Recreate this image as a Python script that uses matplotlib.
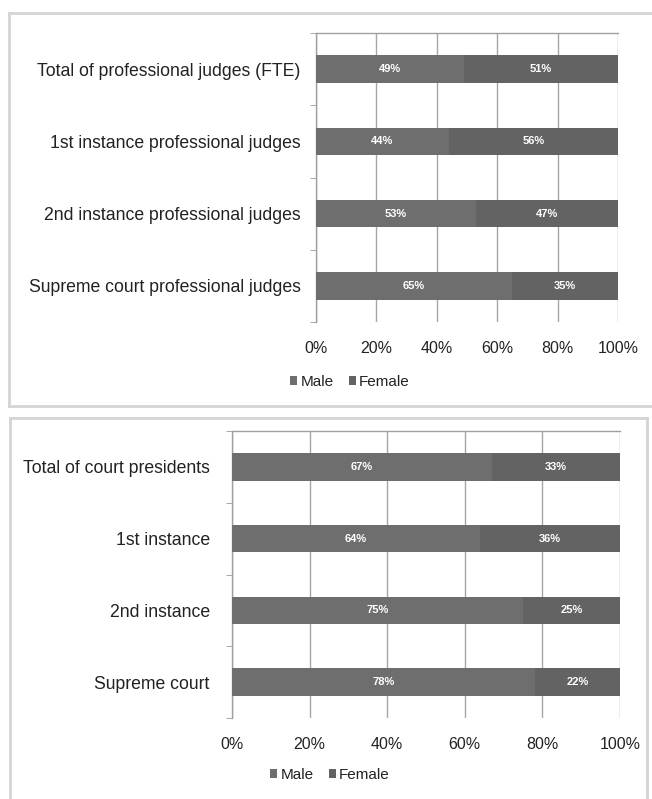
import numpy as np
import matplotlib
matplotlib.use("Agg")
import matplotlib.pyplot as plt
from matplotlib.patches import Patch, Rectangle
from matplotlib.lines import Line2D

plt.rcParams["font.family"] = ["Liberation Sans", "DejaVu Sans"]

# data
judges_cats = ["Total of professional judges (FTE)", "1st instance professional judges",
               "2nd instance professional judges", "Supreme court professional judges"]
judges_male = [49, 44, 53, 65]
judges_female = [51, 56, 47, 35]

pres_cats = ["Total of court presidents", "1st instance", "2nd instance", "Supreme court"]
pres_male = [67, 64, 75, 78]
pres_female = [33, 36, 25, 22]

xticks = [0, 20, 40, 60, 80, 100]
series_names = ["Male", "Female"]

MALE_C = "#6e6e6e"
FEMALE_C = "#636363"
GRID_C = "#a6a6a6"
FRAME_C = "#d4d4d4"

W, H = 652, 799
fig = plt.figure(figsize=(W / 100, H / 100), dpi=100)


def px_rect(x0, y0, x1, y1):
    """figure-fraction [l, b, w, h] from pixel box (y measured from top)"""
    return [x0 / W, 1 - y1 / H, (x1 - x0) / W, (y1 - y0) / H]


def panel(rect, cats, male, female, legend_xy, label_pad):
    ax = fig.add_axes(rect)
    y = np.arange(len(cats))
    ax.barh(y, male, height=0.38, color=MALE_C, zorder=3)
    ax.barh(y, female, left=male, height=0.38, color=FEMALE_C, zorder=3)
    for yi, m, f in zip(y, male, female):
        ax.text(m / 2, yi, f"{m}%", color="white", fontsize=8, fontweight="bold",
                ha="center", va="center", zorder=4)
        ax.text(m + f / 2, yi, f"{f}%", color="white", fontsize=8, fontweight="bold",
                ha="center", va="center", zorder=4)

    ax.set_xlim(0, 100)
    ax.set_ylim(len(cats) - 0.5, -0.5)
    ax.set_xticks(xticks)
    ax.set_xticklabels([f"{t}%" for t in xticks])
    ax.set_yticks(y)
    ax.set_yticklabels(cats)
    ax.set_yticks(np.arange(-0.5, len(cats), 1), minor=True)
    ax.tick_params(axis="y", which="major", length=0, pad=label_pad, labelsize=12.7,
                   labelcolor="#222222")
    ax.tick_params(axis="y", which="minor", length=4, color="#999999", direction="out")
    ax.tick_params(axis="x", length=0, pad=14, labelsize=11.5, labelcolor="#222222")
    ax.grid(axis="x", color=GRID_C, linewidth=1.0, zorder=0)
    for s in ("right", "bottom"):
        ax.spines[s].set_visible(False)
    for s in ("left", "top"):
        ax.spines[s].set_color("#a0a0a0")
        ax.spines[s].set_linewidth(1.0)

    handles = [Patch(facecolor=MALE_C, label=series_names[0]),
               Patch(facecolor=FEMALE_C, label=series_names[1])]
    ax.legend(handles=handles, loc="center",
              bbox_to_anchor=(legend_xy[0] / W, 1 - legend_xy[1] / H),
              bbox_transform=fig.transFigure, ncol=2, frameon=False, fontsize=11,
              labelcolor="#222222",
              handlelength=0.45, handleheight=0.45, handletextpad=0.2, columnspacing=1.0)
    return ax


ax1 = panel(px_rect(316, 33, 618, 322), judges_cats, judges_male, judges_female,
            (350, 382), 11)
ax2 = panel(px_rect(232, 431, 620, 718), pres_cats, pres_male, pres_female,
            (330, 775), 16)

# light grey frames around each pasted chart (top one runs off the right edge)
top_frame = [((9, 652), (13, 13)), ((9, 9), (13, 406)), ((9, 652), (406, 406))]
bottom_frame = [((10, 647), (418, 418)), ((10, 10), (418, 799)), ((647, 647), (418, 799))]
for xs, ys in top_frame + bottom_frame:
    fig.add_artist(Line2D([x / W for x in xs], [1 - v / H for v in ys],
                          transform=fig.transFigure, color=FRAME_C, linewidth=2.0))

fig.savefig("out.png", dpi=100)
